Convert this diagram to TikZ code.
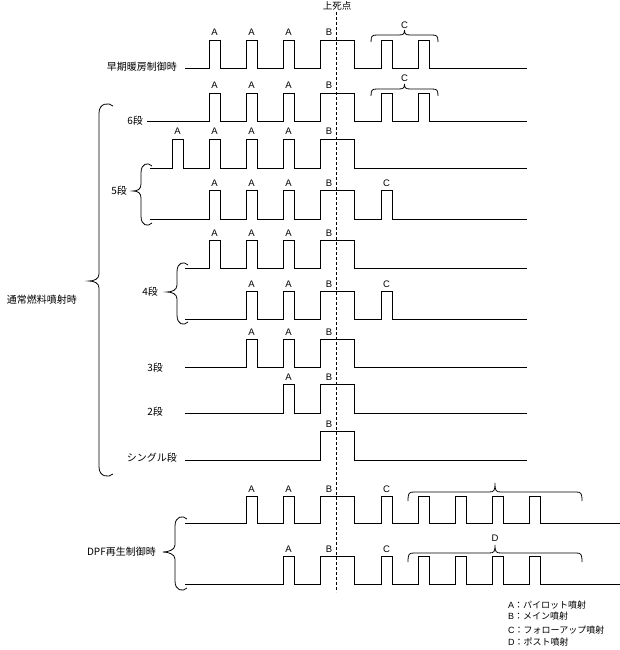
\documentclass[tikz,border=0pt]{standalone}
\usepackage{fontspec}
\setmainfont{Liberation Sans}
\newfontfamily\cjk{Noto Sans CJK JP}
\tikzset{
 sig/.style={draw=black, line width=0.8pt, line join=miter},
 brc/.style={draw=black, line width=0.8pt},
 plab/.style={anchor=base, inner sep=0pt, font=\fontsize{9.5}{10}\selectfont},
 rlab/.style={anchor=east, inner sep=0pt, font=\cjk\fontsize{10}{12}\selectfont},
 leg/.style={anchor=west, inner sep=0pt, font=\fontsize{9}{11}\selectfont},
 tdc/.style={draw=black, line width=0.6pt, dash pattern=on 3pt off 2pt}
}
% pulse row: base, high, start, end, list x/w
\newcommand\prow[5]{%
 \draw[sig] (#3,#1) foreach \px/\pw in {#5} { -- (\px,#1) -- (\px,#2) -- (\px+\pw,#2) -- (\px+\pw,#1) } -- (#4,#1);}
% pulse label: name, x, high, text
\newcommand\plabel[4]{\node[plab] (#1) at (#2,#3-4) {#4};}
% vertical left brace: x0, ytop, ybot, ymid, xtip, hook
\newcommand\vbr[6]{%
 \draw[brc] (#1+#6,#2+3) .. controls (#1+#6-4,#2-1) and (#1,#2) .. (#1,#2+10)
  -- (#1,#4-7) .. controls (#1,#4-2) and (#5+5,#4) .. (#5,#4)
  .. controls (#5+5,#4) and (#1,#4+2) .. (#1,#4+7)
  -- (#1,#3-10) .. controls (#1,#3) and (#1+#6-4,#3+1) .. (#1+#6,#3-3);}
% horizontal over-brace: xl, xr, yh, ytip, depth
\newcommand\hbr[5]{%
 \draw[brc] (#1,#3+#5) .. controls (#1,#3+1) and (#1+1,#3) .. (#1+6,#3)
  -- ({(#1+#2)/2-6},#3) .. controls ({(#1+#2)/2-1},#3) and ({(#1+#2)/2},#3-1) .. ({(#1+#2)/2},#4)
  .. controls ({(#1+#2)/2},#3-1) and ({(#1+#2)/2+1},#3) .. ({(#1+#2)/2+6},#3)
  -- (#2-6,#3) .. controls (#2-1,#3) and (#2,#3+1) .. (#2,#3+#5);}
\begin{document}
\begin{tikzpicture}[x=1pt,y=-1pt]
\useasboundingbox (0,0) rectangle (620,650);
% top dead centre
\coordinate (tdctop) at (336,12);
\coordinate (tdcbot) at (336,592);
\draw[tdc] (tdctop) -- (tdcbot);
\node[inner sep=0pt, font=\cjk\fontsize{9.5}{11}\selectfont] (tdc) at (337,6) {上死点};

% rows
\prow{68}{40}{185}{527}{209/11,246/11,283/11,320/34,381/11,418/11}
\prow{121}{93}{147}{527}{209/11,246/11,283/11,320/34,381/11,418/11}
\prow{168}{139}{150}{527}{172/11,209/11,246/11,283/11,320/34}
\prow{219}{190}{150}{527}{209/11,246/11,283/11,320/34,381/11}
\prow{268}{240}{185}{527}{209/11,246/11,283/11,320/34}
\prow{319}{291}{185}{527}{246/11,283/11,320/34,381/11}
\prow{367}{339}{185}{527}{246/11,283/11,320/34}
\prow{413}{384}{185}{527}{283/11,320/34}
\prow{460}{431}{185}{527}{320/34}
\prow{523}{496}{185}{620}{246/11,283/11,320/34,381/11,418/11,455/11,492/11,529/11}
\prow{584}{556}{185}{620}{283/11,320/34,381/11,418/11,455/11,492/11,529/11}

% pulse labels
\plabel{r1a}{214.5}{40}{A}\plabel{r1b}{251.5}{40}{A}\plabel{r1c}{288.5}{40}{A}\plabel{r1d}{329}{40}{B}
\plabel{r2a}{214.5}{93}{A}\plabel{r2b}{251.5}{93}{A}\plabel{r2c}{288.5}{93}{A}\plabel{r2d}{329}{93}{B}
\plabel{r3a}{177.5}{139}{A}\plabel{r3b}{214.5}{139}{A}\plabel{r3c}{251.5}{139}{A}\plabel{r3d}{288.5}{139}{A}\plabel{r3e}{329}{139}{B}
\plabel{r4a}{214.5}{190}{A}\plabel{r4b}{251.5}{190}{A}\plabel{r4c}{288.5}{190}{A}\plabel{r4d}{329}{190}{B}\plabel{r4e}{386.5}{190}{C}
\plabel{r5a}{214.5}{240}{A}\plabel{r5b}{251.5}{240}{A}\plabel{r5c}{288.5}{240}{A}\plabel{r5d}{329}{240}{B}
\plabel{r6a}{251.5}{291}{A}\plabel{r6b}{288.5}{291}{A}\plabel{r6c}{329}{291}{B}\plabel{r6d}{386.5}{291}{C}
\plabel{r7a}{251.5}{339}{A}\plabel{r7b}{288.5}{339}{A}\plabel{r7c}{329}{339}{B}
\plabel{r8a}{288.5}{384}{A}\plabel{r8b}{329}{384}{B}
\plabel{r9a}{329}{431}{B}
\plabel{r10a}{251.5}{496}{A}\plabel{r10b}{288.5}{496}{A}\plabel{r10c}{329}{496}{B}\plabel{r10d}{386.5}{496}{C}
\plabel{r11a}{288.5}{556}{A}\plabel{r11b}{329}{556}{B}\plabel{r11c}{386.5}{556}{C}

% over-braces
\hbr{371}{438}{35}{30}{7}
\node[plab] (c1) at (404.5,28.5) {C};
\hbr{371}{438}{89}{84}{7}
\node[plab] (c2) at (404.5,82) {C};
\hbr{408}{582}{492}{483}{9}
\hbr{408}{582}{553}{545}{9}
\node[plab] (d1) at (495,541) {D};

% left braces
\vbr{99}{103}{477}{281}{89}{14}
\vbr{141}{163}{226}{191}{133}{11}
\vbr{177}{262}{325}{292}{167}{11}
\vbr{175}{516}{591}{552}{163}{12}

% row labels
\node[rlab] (l1) at (177,67) {早期暖房制御時};
\node[rlab] (l2) at (143,121) {6段};
\node[rlab] (l3) at (127,191) {5段};
\node[rlab] (l4) at (158,292) {4段};
\node[rlab] (l5) at (163,368) {3段};
\node[rlab] (l6) at (163,412) {2段};
\node[rlab] (l7) at (177,458) {シングル段};
\node[rlab] (l8) at (77,300) {通常燃料噴射時};
\node[rlab] (l9) at (156,552) {DPF再生制御時};

% legend
\node[leg] (g1) at (508,605) {A{\cjk ：パイロット噴射}};
\node[leg] (g2) at (508,616) {B{\cjk ：メイン噴射}};
\node[leg] (g3) at (508,630) {C{\cjk ：フォローアップ噴射}};
\node[leg] (g4) at (508,642) {D{\cjk ：ポスト噴射}};
\end{tikzpicture}
\end{document}
